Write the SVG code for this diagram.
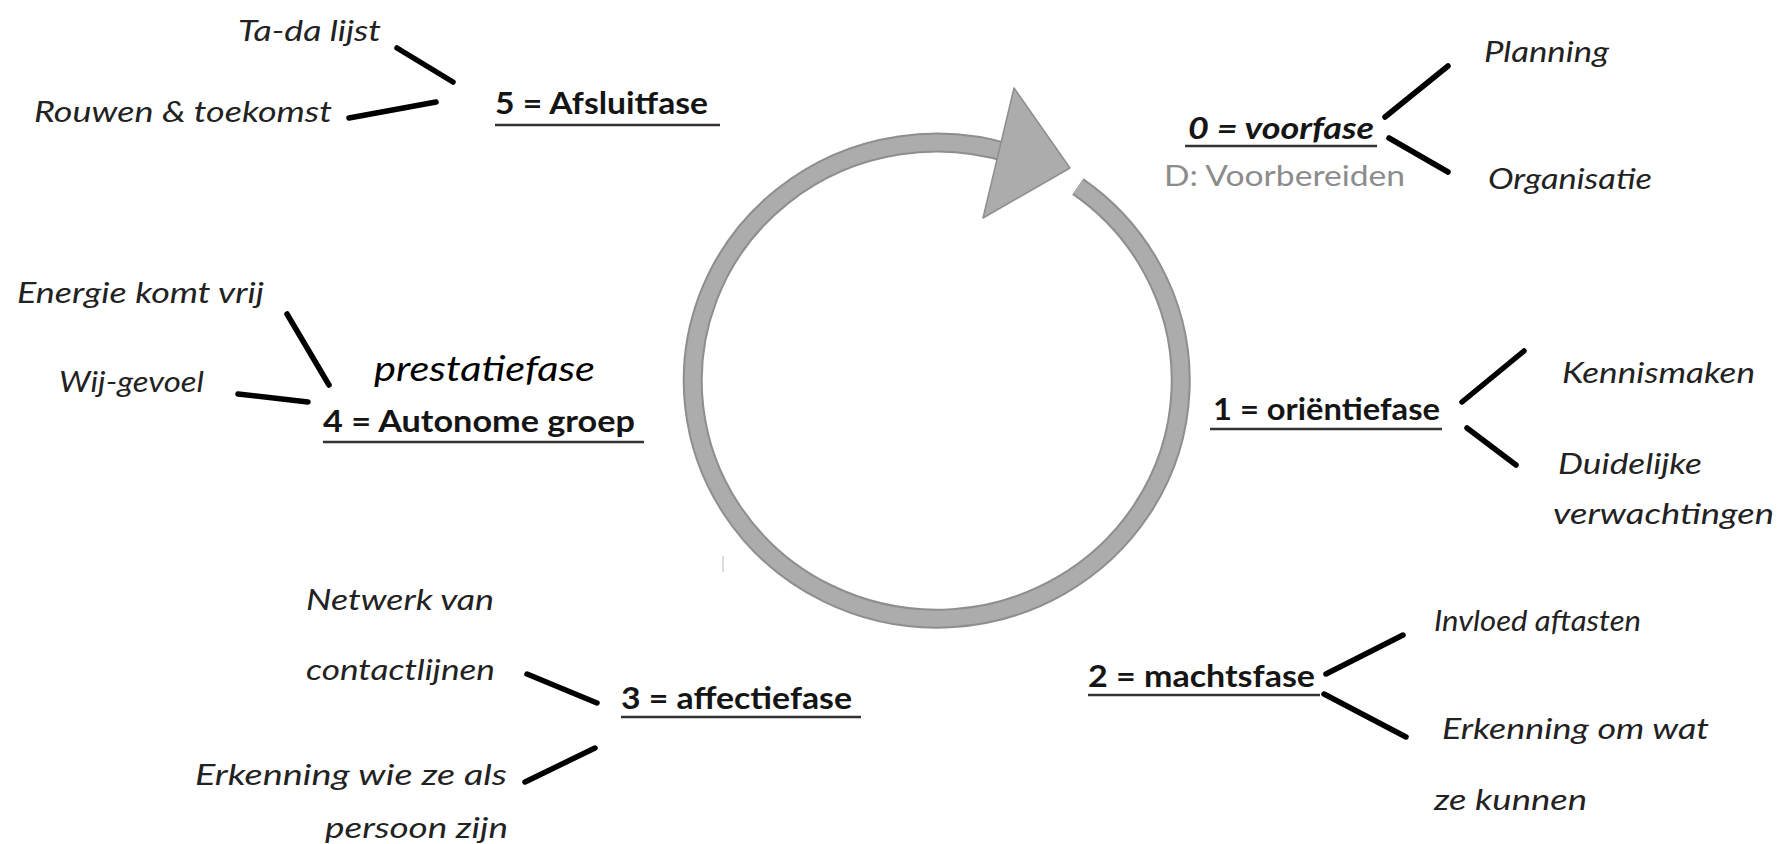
<svg xmlns="http://www.w3.org/2000/svg" width="1777" height="844" viewBox="0 0 1777 844">
<style>
.item{font-family:Lato,"Liberation Sans",sans-serif;font-style:italic;font-size:28px;fill:#222}
.head{font-family:Lato,"Liberation Sans",sans-serif;font-weight:bold;font-size:31px;fill:#151515}
.hi{font-style:italic}
.sub{font-family:Lato,"Liberation Sans",sans-serif;font-size:28px;fill:#8c8c8c}
.big{font-family:Lato,"Liberation Sans",sans-serif;font-style:italic;font-size:34px;fill:#000}
.ul{stroke:#333;stroke-width:2.6;fill:none}
.con{stroke:#000;stroke-width:5.5;stroke-linecap:round;fill:none}
</style>
<rect width="1777" height="844" fill="#fff"/>
<g id="cycle">
<path d="M 1077.9 186.5 A 244 238 0 1 1 1011.9 154.2" fill="none" stroke="#8e8e8e" stroke-width="20"/>
<path d="M 1077.9 186.5 A 244 238 0 1 1 1011.9 154.2" fill="none" stroke="#acacac" stroke-width="16"/>
<polygon points="1014,88 1070,168 983,218" fill="#acacac" stroke="#8e8e8e" stroke-width="1.5" stroke-linejoin="round"/>
<line x1="723" y1="556" x2="723" y2="572" stroke="#d0d0d0" stroke-width="1.5"/>
</g>
<g id="connectors">
<line class="con" x1="397" y1="48" x2="453" y2="82"/>
<line class="con" x1="349" y1="118" x2="436" y2="102"/>
<line class="con" x1="1385" y1="117" x2="1448" y2="66"/>
<line class="con" x1="1389" y1="138" x2="1448" y2="172"/>
<line class="con" x1="287" y1="314" x2="329" y2="385"/>
<line class="con" x1="238" y1="394" x2="308" y2="402"/>
<line class="con" x1="1462" y1="402" x2="1524" y2="351"/>
<line class="con" x1="1467" y1="428" x2="1516" y2="465"/>
<line class="con" x1="527" y1="674" x2="597" y2="703"/>
<line class="con" x1="525" y1="782" x2="595" y2="748"/>
<line class="con" x1="1326" y1="674" x2="1403" y2="635"/>
<line class="con" x1="1324" y1="694" x2="1406" y2="737"/>
</g>
<g id="phase5">
<text class="head" x="495" y="114" textLength="213" lengthAdjust="spacingAndGlyphs">5 = Afsluitfase</text>
<line class="ul" x1="495" y1="125" x2="720" y2="125"/>
</g>
<g id="tada"><text class="item" x="238" y="41" textLength="143" lengthAdjust="spacingAndGlyphs">Ta-da lijst</text></g>
<g id="rouwen"><text class="item" x="34" y="122" textLength="298" lengthAdjust="spacingAndGlyphs">Rouwen &amp; toekomst</text></g>
<g id="phase0">
<text class="head hi" x="1188" y="139" textLength="186" lengthAdjust="spacingAndGlyphs">0 = voorfase</text>
<line class="ul" x1="1185" y1="146" x2="1377" y2="146"/>
<text class="sub" x="1164" y="186" textLength="241" lengthAdjust="spacingAndGlyphs">D: Voorbereiden</text>
</g>
<g id="planning"><text class="item" x="1484" y="62" textLength="125" lengthAdjust="spacingAndGlyphs">Planning</text></g>
<g id="organisatie"><text class="item" x="1488" y="189" textLength="164" lengthAdjust="spacingAndGlyphs">Organisatie</text></g>
<g id="phase4">
<text class="big" x="374" y="381" textLength="221" lengthAdjust="spacingAndGlyphs">prestatiefase</text>
<text class="head" x="323" y="432" textLength="312" lengthAdjust="spacingAndGlyphs">4 = Autonome groep</text>
<line class="ul" x1="323" y1="442" x2="644" y2="442"/>
</g>
<g id="energie"><text class="item" x="17" y="303" textLength="247" lengthAdjust="spacingAndGlyphs">Energie komt vrij</text></g>
<g id="wijgevoel"><text class="item" x="59" y="392" textLength="145" lengthAdjust="spacingAndGlyphs">Wij-gevoel</text></g>
<g id="phase1">
<text class="head" x="1213" y="420" textLength="227" lengthAdjust="spacingAndGlyphs">1 = oriëntiefase</text>
<line class="ul" x1="1210" y1="429" x2="1442" y2="429"/>
</g>
<g id="kennismaken"><text class="item" x="1562" y="383" textLength="193" lengthAdjust="spacingAndGlyphs">Kennismaken</text></g>
<g id="duidelijke">
<text class="item" x="1558" y="474" textLength="144" lengthAdjust="spacingAndGlyphs">Duidelijke</text>
<text class="item" x="1553" y="524" textLength="221" lengthAdjust="spacingAndGlyphs">verwachtingen</text>
</g>
<g id="phase3">
<text class="head" x="621" y="709" textLength="231" lengthAdjust="spacingAndGlyphs">3 = affectiefase</text>
<line class="ul" x1="621" y1="717" x2="861" y2="717"/>
</g>
<g id="netwerk">
<text class="item" x="306" y="610" textLength="188" lengthAdjust="spacingAndGlyphs">Netwerk van</text>
<text class="item" x="306" y="680" textLength="189" lengthAdjust="spacingAndGlyphs">contactlijnen</text>
</g>
<g id="erkenning3">
<text class="item" x="195" y="785" textLength="312" lengthAdjust="spacingAndGlyphs">Erkenning wie ze als</text>
<text class="item" x="325" y="838" textLength="183" lengthAdjust="spacingAndGlyphs">persoon zijn</text>
</g>
<g id="phase2">
<text class="head" x="1088" y="687" textLength="227" lengthAdjust="spacingAndGlyphs">2 = machtsfase</text>
<line class="ul" x1="1088" y1="695" x2="1320" y2="695"/>
</g>
<g id="invloed"><text class="item" x="1434" y="631" textLength="207" lengthAdjust="spacingAndGlyphs">Invloed aftasten</text></g>
<g id="erkenning2">
<text class="item" x="1442" y="739" textLength="267" lengthAdjust="spacingAndGlyphs">Erkenning om wat</text>
<text class="item" x="1434" y="810" textLength="153" lengthAdjust="spacingAndGlyphs">ze kunnen</text>
</g>
</svg>
